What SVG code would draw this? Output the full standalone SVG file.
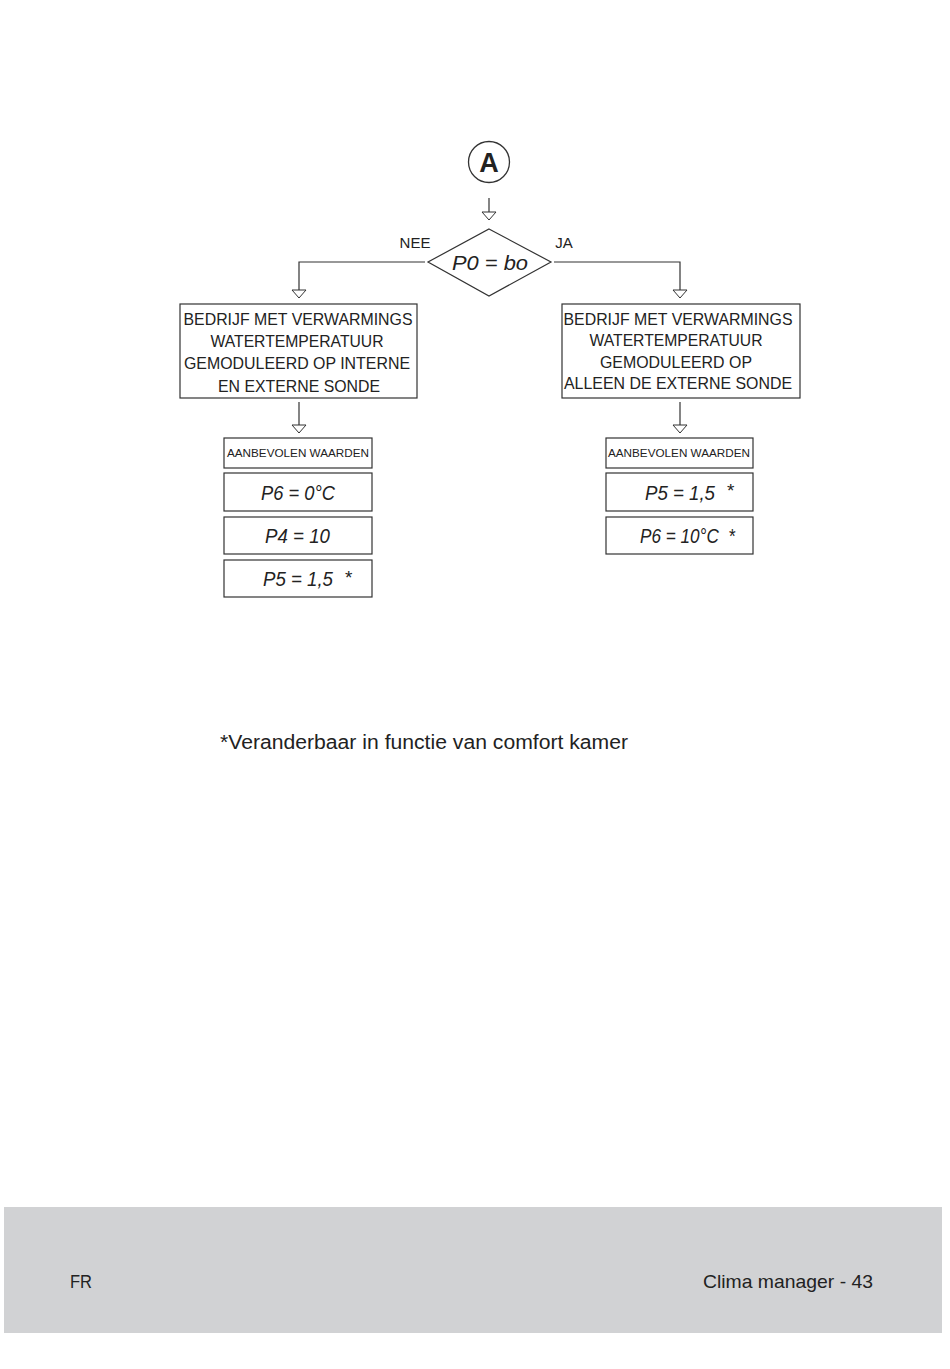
<svg xmlns="http://www.w3.org/2000/svg" width="950" height="1369" viewBox="0 0 950 1369">
<defs>
<marker id="tri" viewBox="0 0 16 10" refX="8" refY="9" markerWidth="16" markerHeight="10" markerUnits="userSpaceOnUse" orient="0">
<path d="M1,1 L15,1 L8,9 Z" fill="#fff" stroke="#333" stroke-width="1"/>
</marker>
<style>
.box{fill:#fff;stroke:#333;stroke-width:1.2}
.ln{fill:none;stroke:#333;stroke-width:1.2}
.t{font-family:"Liberation Sans",Arial,sans-serif;fill:#222}
.big{font-size:17px;text-anchor:middle}
.sm{font-size:11.5px;text-anchor:middle}
.seg{font-family:"Liberation Sans",Arial,sans-serif;font-style:italic;font-size:20px;fill:#222}
.star{font-family:"Liberation Sans",Arial,sans-serif;font-size:19px;fill:#222}
</style>
</defs>
<rect x="0" y="0" width="950" height="1369" fill="#fff"/>
<rect x="4" y="1207" width="938" height="126" fill="#d1d2d4"/>
<text class="t" x="70" y="1288" font-size="19" textLength="22" lengthAdjust="spacingAndGlyphs">FR</text>
<text class="t" x="873" y="1288" font-size="19" text-anchor="end" textLength="170" lengthAdjust="spacingAndGlyphs">Clima manager - 43</text>

<g id="connectors">
<line class="ln" x1="489" y1="198" x2="489" y2="220" marker-end="url(#tri)"/>
<polyline class="ln" points="425,262 299,262 299,298" marker-end="url(#tri)"/>
<polyline class="ln" points="554,262 680,262 680,298" marker-end="url(#tri)"/>
<line class="ln" x1="299" y1="402" x2="299" y2="433" marker-end="url(#tri)"/>
<line class="ln" x1="680" y1="402" x2="680" y2="433" marker-end="url(#tri)"/>
</g>

<g id="start">
<circle cx="489" cy="162" r="20.5" fill="#fff" stroke="#333" stroke-width="1.3"/>
<text class="t" x="489" y="172" font-size="27" font-weight="bold" text-anchor="middle">A</text>
</g>

<g id="decision">
<polygon points="489,229 551,262 489,296 428,262" fill="#fff" stroke="#333" stroke-width="1.2"/>
<text class="seg" x="452" y="270" font-size="21" textLength="76" lengthAdjust="spacingAndGlyphs">P0 = bo</text>
<text class="t" x="415" y="248" font-size="15" text-anchor="middle">NEE</text>
<text class="t" x="564" y="248" font-size="15" text-anchor="middle">JA</text>
</g>

<g id="mode-left">
<rect class="box" x="180" y="304" width="237" height="94"/>
<text class="t big" x="298" y="325" textLength="229" lengthAdjust="spacingAndGlyphs">BEDRIJF MET VERWARMINGS</text>
<text class="t big" x="297" y="347" textLength="173" lengthAdjust="spacingAndGlyphs">WATERTEMPERATUUR</text>
<text class="t big" x="297" y="369" textLength="226" lengthAdjust="spacingAndGlyphs">GEMODULEERD OP INTERNE</text>
<text class="t big" x="299" y="392" textLength="162" lengthAdjust="spacingAndGlyphs">EN EXTERNE SONDE</text>
</g>

<g id="mode-right">
<rect class="box" x="562" y="304" width="238" height="94"/>
<text class="t big" x="678" y="325" textLength="229" lengthAdjust="spacingAndGlyphs">BEDRIJF MET VERWARMINGS</text>
<text class="t big" x="676" y="346" textLength="173" lengthAdjust="spacingAndGlyphs">WATERTEMPERATUUR</text>
<text class="t big" x="676" y="368" textLength="152" lengthAdjust="spacingAndGlyphs">GEMODULEERD OP</text>
<text class="t big" x="678" y="389" textLength="228" lengthAdjust="spacingAndGlyphs">ALLEEN DE EXTERNE SONDE</text>
</g>

<g id="values-left">
<rect class="box" x="224" y="438" width="148" height="30"/>
<text class="t sm" x="298" y="457" textLength="142" lengthAdjust="spacingAndGlyphs">AANBEVOLEN WAARDEN</text>
</g>
<g id="left-p6">
<rect class="box" x="224" y="473" width="148" height="38"/>
<text class="seg" x="261" y="500" font-size="19" textLength="74" lengthAdjust="spacingAndGlyphs">P6 = 0°C</text>
</g>
<g id="left-p4">
<rect class="box" x="224" y="517" width="148" height="37"/>
<text class="seg" x="265" y="543" textLength="65" lengthAdjust="spacingAndGlyphs">P4 = 10</text>
</g>
<g id="left-p5">
<rect class="box" x="224" y="560" width="148" height="37"/>
<text class="seg" x="263" y="586" font-size="19" textLength="70" lengthAdjust="spacingAndGlyphs">P5 = 1,5</text>
<text class="star" x="345" y="584">*</text>
</g>

<g id="values-right">
<rect class="box" x="606" y="438" width="147" height="30"/>
<text class="t sm" x="679" y="457" textLength="142" lengthAdjust="spacingAndGlyphs">AANBEVOLEN WAARDEN</text>
</g>
<g id="right-p5">
<rect class="box" x="606" y="473" width="147" height="38"/>
<text class="seg" x="645" y="500" font-size="19" textLength="70" lengthAdjust="spacingAndGlyphs">P5 = 1,5</text>
<text class="star" x="727" y="497">*</text>
</g>
<g id="right-p6">
<rect class="box" x="606" y="517" width="147" height="37"/>
<text class="seg" x="640" y="543" font-size="17" textLength="95" lengthAdjust="spacingAndGlyphs" xml:space="preserve">P6 = 10°C  *</text>
</g>

<text class="t" x="220" y="749" font-size="20" textLength="408" lengthAdjust="spacingAndGlyphs">*Veranderbaar in functie van comfort kamer</text>
</svg>
